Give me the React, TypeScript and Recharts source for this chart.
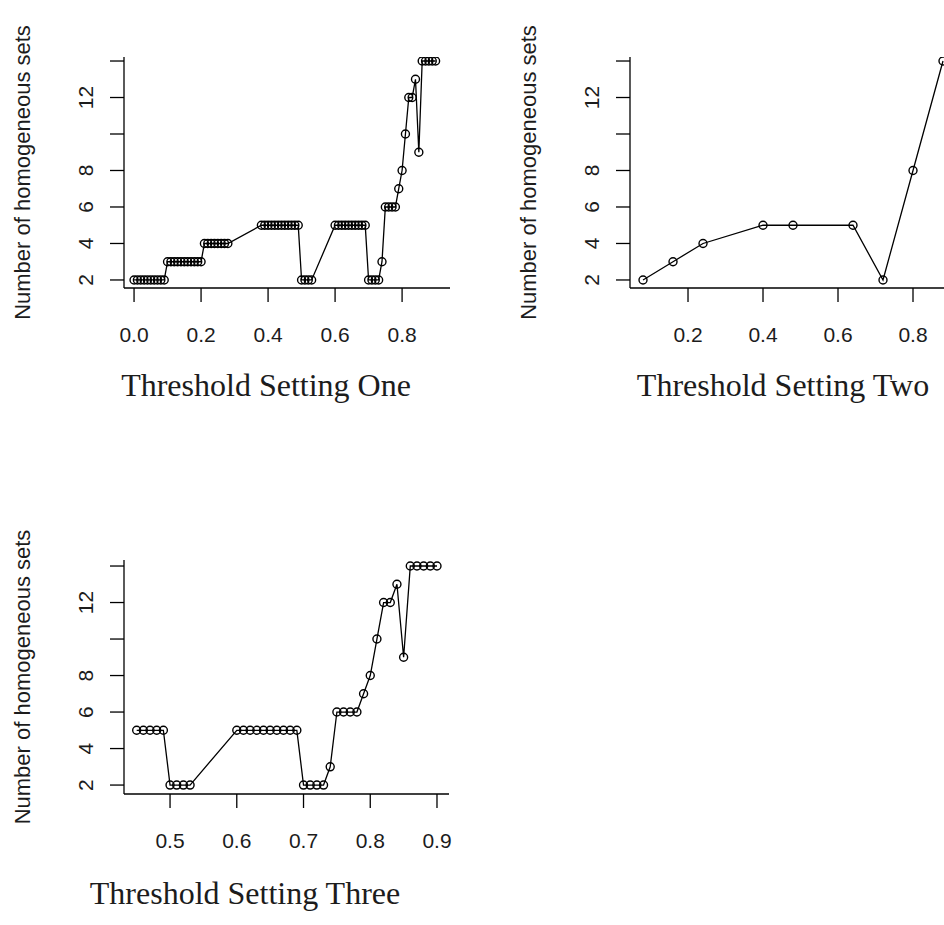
import React from 'react';
import { LineChart, Line, XAxis, YAxis } from 'recharts';

// Setting one: threshold vs. number of homogeneous sets
const thresholdsOne = [
  0.0, 0.01, 0.02, 0.03, 0.04, 0.05, 0.06, 0.07, 0.08, 0.09,
  0.1, 0.11, 0.12, 0.13, 0.14, 0.15, 0.16, 0.17, 0.18, 0.19, 0.2,
  0.21, 0.22, 0.23, 0.24, 0.25, 0.26, 0.27, 0.28,
  0.38, 0.39, 0.4, 0.41, 0.42, 0.43, 0.44, 0.45, 0.46, 0.47, 0.48, 0.49,
  0.5, 0.51, 0.52, 0.53,
  0.6, 0.61, 0.62, 0.63, 0.64, 0.65, 0.66, 0.67, 0.68, 0.69,
  0.7, 0.71, 0.72, 0.73, 0.74, 0.75, 0.76, 0.77, 0.78,
  0.79, 0.8, 0.81, 0.82, 0.83, 0.84, 0.85, 0.86, 0.87, 0.88, 0.89, 0.9,
];
const setsOne = [
  2, 2, 2, 2, 2, 2, 2, 2, 2, 2,
  3, 3, 3, 3, 3, 3, 3, 3, 3, 3, 3,
  4, 4, 4, 4, 4, 4, 4, 4,
  5, 5, 5, 5, 5, 5, 5, 5, 5, 5, 5, 5,
  2, 2, 2, 2,
  5, 5, 5, 5, 5, 5, 5, 5, 5, 5,
  2, 2, 2, 2, 3, 6, 6, 6, 6,
  7, 8, 10, 12, 12, 13, 9, 14, 14, 14, 14, 14,
];

// Setting two: coarse threshold grid
const thresholdsTwo = [0.08, 0.16, 0.24, 0.4, 0.48, 0.64, 0.72, 0.8, 0.88];
const setsTwo = [2, 3, 4, 5, 5, 5, 2, 8, 14];

// Setting three: upper threshold range only
const thresholdsThree = [
  0.45, 0.46, 0.47, 0.48, 0.49,
  0.5, 0.51, 0.52, 0.53,
  0.6, 0.61, 0.62, 0.63, 0.64, 0.65, 0.66, 0.67, 0.68, 0.69,
  0.7, 0.71, 0.72, 0.73, 0.74, 0.75, 0.76, 0.77, 0.78,
  0.79, 0.8, 0.81, 0.82, 0.83, 0.84, 0.85, 0.86, 0.87, 0.88, 0.89, 0.9,
];
const setsThree = [
  5, 5, 5, 5, 5,
  2, 2, 2, 2,
  5, 5, 5, 5, 5, 5, 5, 5, 5, 5,
  2, 2, 2, 2, 3, 6, 6, 6, 6,
  7, 8, 10, 12, 12, 13, 9, 14, 14, 14, 14, 14,
];

const yTicks = [2, 4, 6, 8, 10, 12, 14];
const yTickLabels: Record<number, string> = { 2: '2', 4: '4', 6: '6', 8: '8', 10: '', 12: '12', 14: '' };
const xTicksOne = [0, 0.2, 0.4, 0.6, 0.8];
const xTicksTwo = [0.2, 0.4, 0.6, 0.8];
const xTicksThree = [0.5, 0.6, 0.7, 0.8, 0.9];

const yTitle = 'Number of homogeneous sets';
const captions = ['Threshold Setting One', 'Threshold Setting Two', 'Threshold Setting Three'];

const SANS = '"Liberation Sans", Arial, sans-serif';
const SERIF = '"Liberation Serif", "Times New Roman", serif';
const INK = '#1c1c1c';

const toRows = (xs: number[], ys: number[]) => xs.map((t, i) => ({ t, n: ys[i] }));

const YTick = (props: any) => {
  const { x, y, payload } = props;
  return (
    <text
      transform={`translate(${x},${y}) rotate(-90)`}
      textAnchor="middle"
      fontSize={21}
      fontFamily={SANS}
      fill={INK}
    >
      {yTickLabels[payload.value]}
    </text>
  );
};

const YTitle = (props: any) => {
  const { viewBox } = props;
  const cx = viewBox.x + 30;
  const cy = viewBox.y + viewBox.height / 2;
  return (
    <text
      transform={`translate(${cx},${cy}) rotate(-90)`}
      textAnchor="middle"
      fontSize={22}
      fontFamily={SANS}
      fill={INK}
    >
      {yTitle}
    </text>
  );
};

type PanelProps = {
  rows: { t: number; n: number }[];
  xDomain: [number, number];
  yDomain: [number, number];
  xTicks: number[];
  width: number;
  height: number;
  top: number;
  right: number;
  xAxisHeight: number;
};

const Panel = ({ rows, xDomain, yDomain, xTicks, width, height, top, right, xAxisHeight }: PanelProps) => (
  <LineChart width={width} height={height} data={rows} margin={{ top, right, bottom: 0, left: 0 }}>
    <XAxis
      dataKey="t"
      type="number"
      domain={xDomain}
      ticks={xTicks}
      allowDataOverflow
      height={xAxisHeight}
      tickSize={14}
      tickMargin={25}
      tickFormatter={(v: number) => v.toFixed(1)}
      tick={{ fontSize: 21, fontFamily: SANS, fill: INK }}
      stroke="#000"
      strokeWidth={1.3}
    />
    <YAxis
      type="number"
      domain={yDomain}
      ticks={yTicks}
      allowDataOverflow
      width={124}
      tickSize={14}
      tickMargin={17}
      tick={<YTick />}
      label={<YTitle />}
      stroke="#000"
      strokeWidth={1.3}
    />
    <Line
      type="linear"
      dataKey="n"
      stroke="#000"
      strokeWidth={1.3}
      dot={{ r: 4, stroke: '#000', strokeWidth: 1.4, fill: 'none' }}
      activeDot={false}
      isAnimationActive={false}
    />
  </LineChart>
);

export default function App() {
  return (
    <div
      style={{
        position: 'absolute',
        left: 0,
        top: 0,
        width: 944,
        height: 925,
        overflow: 'hidden',
        background: '#fff',
      }}
    >
      <div style={{ position: 'absolute', left: 0, top: 0 }}>
        <Panel
          rows={toRows(thresholdsOne, setsOne)}
          xDomain={[-0.03, 0.943]}
          yDomain={[1.56, 14.22]}
          xTicks={xTicksOne}
          width={465}
          height={360}
          top={57}
          right={15}
          xAxisHeight={72}
        />
      </div>
      <div style={{ position: 'absolute', left: 506, top: 0 }}>
        <Panel
          rows={toRows(thresholdsTwo, setsTwo)}
          xDomain={[0.0453, 0.912]}
          yDomain={[1.56, 14.22]}
          xTicks={xTicksTwo}
          width={464}
          height={360}
          top={57}
          right={15}
          xAxisHeight={72}
        />
      </div>
      <div style={{ position: 'absolute', left: 0, top: 500 }}>
        <Panel
          rows={toRows(thresholdsThree, setsThree)}
          xDomain={[0.431, 0.918]}
          yDomain={[1.51, 14.33]}
          xTicks={xTicksThree}
          width={464}
          height={360}
          top={60}
          right={15}
          xAxisHeight={66}
        />
      </div>
      <svg width={944} height={925} style={{ position: 'absolute', left: 0, top: 0, pointerEvents: 'none' }}>
        <text x={266} y={396} textAnchor="middle" fontSize={32} fontFamily={SERIF} fill={INK}>
          {captions[0]}
        </text>
        <text x={783} y={396} textAnchor="middle" fontSize={32} fontFamily={SERIF} fill={INK}>
          {captions[1]}
        </text>
        <text x={245} y={904} textAnchor="middle" fontSize={32} fontFamily={SERIF} fill={INK}>
          {captions[2]}
        </text>
      </svg>
    </div>
  );
}
